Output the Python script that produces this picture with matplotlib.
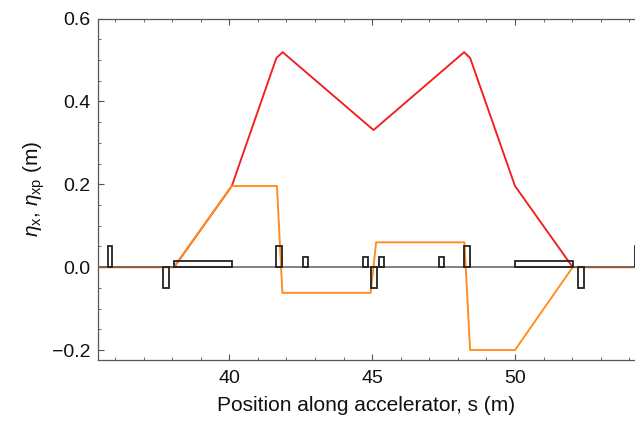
import numpy as np
import matplotlib
matplotlib.use('Agg')
import matplotlib.pyplot as plt
from matplotlib.ticker import MultipleLocator

# dispersion along the lattice
s_pts = [35.4, 38.07, 40.09, 41.65, 41.87, 45.05, 48.22, 48.43, 50.0, 52.02, 54.2]
eta_x = [0.0, 0.0, 0.196, 0.505, 0.519, 0.331, 0.519, 0.505, 0.196, 0.0, 0.0]

s_xp = [35.4, 38.07, 40.09, 41.67, 41.86, 44.95, 45.14, 48.23, 48.43, 50.0, 52.02, 54.2]
eta_xp = [0.0, 0.0, 0.196, 0.196, -0.062, -0.062, 0.06, 0.06, -0.2, -0.2, 0.0, 0.0]

# lattice elements: start, length, height
elem_start = [35.76, 37.67, 38.07, 41.65, 42.59, 44.69, 44.95, 45.24, 47.33, 48.22, 50.0, 52.21, 54.2]
elem_len = [0.15, 0.21, 2.02, 0.21, 0.17, 0.17, 0.21, 0.17, 0.17, 0.21, 2.02, 0.21, 0.21]
elem_h = [0.05, -0.05, 0.015, 0.05, 0.025, 0.025, -0.05, 0.025, 0.025, 0.05, 0.015, -0.05, 0.05]

x_ticks = [40, 45, 50]
y_ticks = [-0.2, 0.0, 0.2, 0.4, 0.6]
y_labels = ['\u22120.2', '0.0', '0.2', '0.4', '0.6']

plt.rcParams['font.family'] = ['Liberation Sans', 'DejaVu Sans']
plt.rcParams['mathtext.fontset'] = 'custom'
plt.rcParams['mathtext.rm'] = 'Liberation Sans'
plt.rcParams['mathtext.it'] = 'Liberation Sans:italic'

fig = plt.figure(figsize=(6.35, 4.23), dpi=100)
ax = fig.add_axes([0.154, 0.149, 0.846, 0.807])

ax.plot(s_pts, eta_x, color='#f21d1d', lw=1.35, zorder=2)
ax.plot(s_xp, eta_xp, color='#ff8c1a', lw=1.35, zorder=3)

# lattice boxes and baseline
ax.plot([35.4, 54.2], [0, 0], color='#555555', lw=1.3, alpha=0.8, zorder=4)
ax.bar(elem_start, elem_h, width=elem_len, align='edge', bottom=0,
       fill=False, edgecolor='#222222', linewidth=1.3, zorder=4)

ax.set_xlim(35.4, 54.2)
ax.set_ylim(-0.224, 0.6)

ax.set_xticks(x_ticks)
ax.xaxis.set_minor_locator(MultipleLocator(1))
ax.set_yticks(y_ticks)
ax.set_yticklabels(y_labels)
ax.yaxis.set_minor_locator(MultipleLocator(0.05))

ax.tick_params(which='both', direction='in', top=True, right=False,
               colors='#555555', labelcolor='#111111', labelsize=14)
ax.tick_params(which='major', length=4, width=0.8)
ax.tick_params(which='minor', length=2.3, width=0.6)
ax.tick_params(axis='x', pad=7)
ax.tick_params(axis='y', pad=5)

for side in ['left', 'bottom', 'top']:
    ax.spines[side].set_color('#555555')
    ax.spines[side].set_linewidth(0.9)
ax.spines['right'].set_visible(False)

ax.set_xlabel('Position along accelerator, s (m)', fontsize=15, color='#111111', labelpad=7)
ax.set_ylabel(r'$\eta_{\mathrm{x}}$, $\eta_{\mathrm{xp}}$ (m)', fontsize=15, color='#111111', labelpad=4)

plt.savefig('out.png', dpi=100)
